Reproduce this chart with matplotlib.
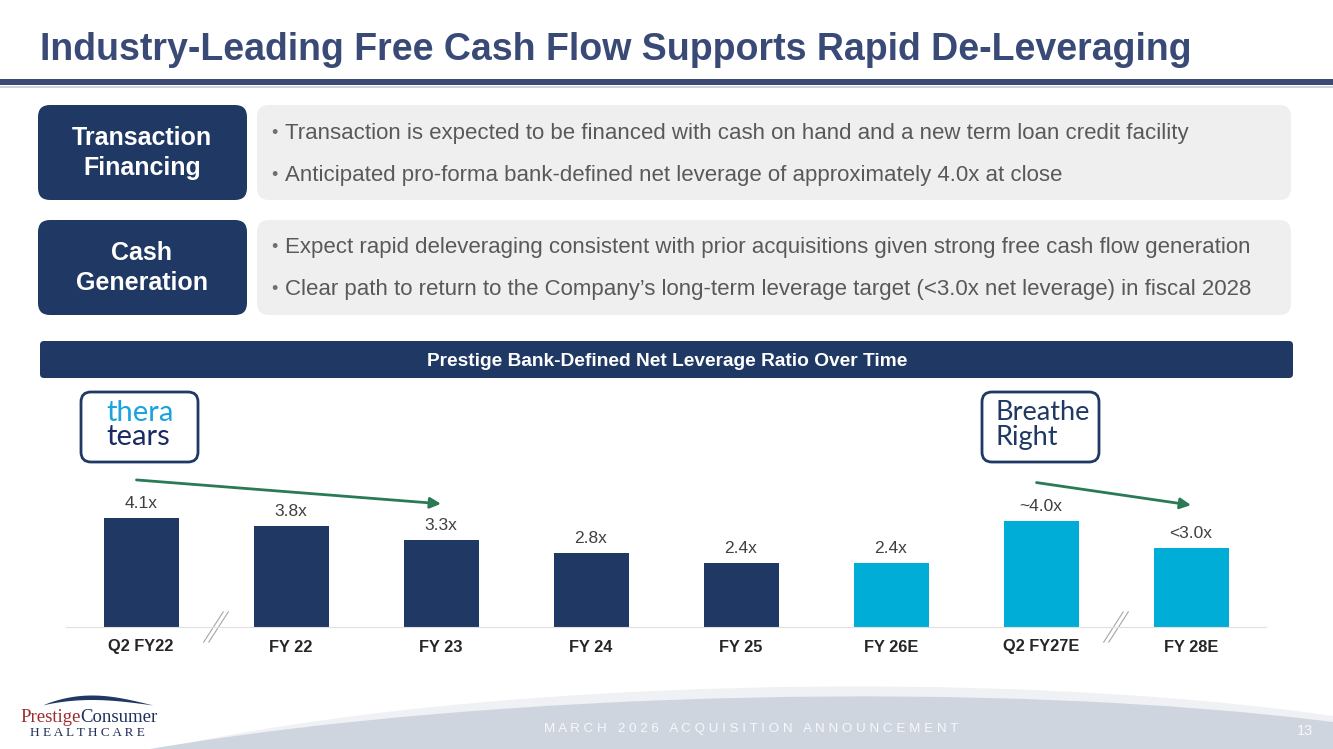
import numpy as np
import matplotlib.pyplot as plt
from matplotlib.patches import FancyBboxPatch, Rectangle, PathPatch
from matplotlib.path import Path

plt.rcParams['font.family'] = ['Liberation Sans', 'DejaVu Sans']

# chart data
periods = ['Q2 FY22', 'FY 22', 'FY 23', 'FY 24', 'FY 25', 'FY 26E', 'Q2 FY27E', 'FY 28E']
leverage = [4.1, 3.8, 3.3, 2.8, 2.4, 2.4, 4.0, 3.0]
value_labels = ['4.1x', '3.8x', '3.3x', '2.8x', '2.4x', '2.4x', '~4.0x', '<3.0x']
is_estimate = [False, False, False, False, False, True, True, True]

title = 'Industry-Leading Free Cash Flow Supports Rapid De-Leveraging'
chart_title = 'Prestige Bank-Defined Net Leverage Ratio Over Time'
sections = ['Transaction\nFinancing', 'Cash\nGeneration']
bullets = [
    ['Transaction is expected to be financed with cash on hand and a new term loan credit facility',
     'Anticipated pro-forma bank-defined net leverage of approximately 4.0x at close'],
    ['Expect rapid deleveraging consistent with prior acquisitions given strong free cash flow generation',
     'Clear path to return to the Company\u2019s long-term leverage target (<3.0x net leverage) in fiscal 2028'],
]

NAVY = '#1f3864'
CYAN = '#00add6'
TITLE_C = '#3a4a77'
GREEN = '#2a7a56'

W, H = 1333, 749
fig = plt.figure(figsize=(W / 100, H / 100), dpi=100)
bg = fig.add_axes([0, 0, 1, 1])
bg.set_xlim(0, W)
bg.set_ylim(H, 0)
bg.axis('off')

# title and rule
bg.text(40, 50, title, fontsize=27, fontweight='bold', color=TITLE_C, va='center', ha='left')
bg.add_patch(Rectangle((0, 79), W, 6, color='#3b4b73', lw=0))
bg.add_patch(Rectangle((0, 86), W, 1.5, color='#d0d4dc', lw=0))

# section boxes with bullets
for k, (sec, items) in enumerate(zip(sections, bullets)):
    top = 105 + k * 115
    bg.add_patch(FancyBboxPatch((257, top), 1034, 95, boxstyle='round,pad=0,rounding_size=12',
                                fc='#efefef', ec='none'))
    bg.add_patch(FancyBboxPatch((38, top), 209, 95, boxstyle='round,pad=0,rounding_size=12',
                                fc=NAVY, ec='none'))
    bg.text(142, top + 48, sec, color='white', fontsize=18, fontweight='bold',
            ha='center', va='center', linespacing=1.3)
    for j, b in enumerate(items):
        yy = top + 28 + j * 42
        bg.text(271, yy, '\u2022', color='#6f6f6f', fontsize=13, va='center', ha='left')
        bg.text(285, yy, b, color='#595959', fontsize=16, va='center', ha='left')

# chart header bar
bg.add_patch(FancyBboxPatch((40, 341), 1253, 37, boxstyle='round,pad=0,rounding_size=4',
                            fc=NAVY, ec='none'))
bg.text(667, 361, chart_title, color='white', fontsize=13.8, fontweight='bold',
        ha='center', va='center')

# logos
for (x0, kind) in [(81, 'thera'), (982, 'breathe')]:
    bg.add_patch(FancyBboxPatch((x0, 392), 117, 70, boxstyle='round,pad=0,rounding_size=10',
                                fc='white', ec=NAVY, lw=2))
    if kind == 'thera':
        bg.text(x0 + 25, 413, 'thera', color='#1aa3dc', fontsize=21, family='Lato',
                va='center', ha='left')
        bg.text(x0 + 25, 437, 'tears', color='#1b2a66', fontsize=21, family='Lato',
                va='center', ha='left')
    else:
        bg.text(x0 + 13, 413, 'Breathe', color=NAVY, fontsize=19.5, family='Lato',
                va='center', ha='left')
        bg.text(x0 + 13, 437, 'Right', color=NAVY, fontsize=19.5, family='Lato',
                va='center', ha='left')

# footer swoosh
cub = [Path.MOVETO, Path.CURVE4, Path.CURVE4, Path.CURVE4, Path.LINETO, Path.CLOSEPOLY]
light = Path([(160, H), (480, 678), (1000, 668), (W, 716), (W, H), (160, H)], cub)
bg.add_patch(PathPatch(light, fc='#f0f1f4', ec='none'))
dark = Path([(150, H), (500, 690), (1000, 680), (W, 722), (W, H), (150, H)], cub)
bg.add_patch(PathPatch(dark, fc='#cfd5df', ec='none'))
footer = '   '.join(' '.join(w) for w in 'MARCH 2026 ACQUISITION ANNOUNCEMENT'.split())
bg.text(751, 729, footer, color='#f7f8fa', fontsize=9.6, ha='center', va='center')
bg.text(1305, 731, '13', color='#f7f8fa', fontsize=10.5, ha='center', va='center')

# company logo
t = np.linspace(0, 1, 60)
xa = 43 + 110 * t
bg.fill_between(xa, 705 - 10 * np.sin(np.pi * t ** 0.85), 705 - 5.5 * np.sin(np.pi * t ** 0.85),
                color=NAVY, lw=0)
bg.text(20, 718, 'Prestige', color='#9e2a2f', fontsize=13.5, family='Liberation Serif',
        va='center', ha='left')
bg.text(80, 718, 'Consumer', color='#1f2f5c', fontsize=13.5, family='Liberation Serif',
        va='center', ha='left')
bg.text(87, 733, ' '.join('HEALTHCARE'), color='#1f2f5c', fontsize=9.5,
        family='Liberation Serif', va='center', ha='center')

# bar chart
ax = fig.add_axes([66 / W, (H - 627) / H, 1200 / W, 159 / H])
ax.patch.set_alpha(0)
x = np.arange(len(periods))
colors = [CYAN if e else NAVY for e in is_estimate]
ax.bar(x, leverage, width=0.5, color=colors)
for xi, v, lab in zip(x, leverage, value_labels):
    ax.annotate(lab, (xi, v), xytext=(0, 5), textcoords='offset points',
                ha='center', va='bottom', fontsize=12.5, color='#404040')
ax.set_xlim(-0.5, len(periods) - 0.5)
ax.set_ylim(0, 6)
ax.set_xticks(x)
ax.set_xticklabels(periods, fontsize=11.8, fontweight='bold', color='#262626')
ax.tick_params(axis='x', length=0, pad=9)
ax.set_yticks([])
for s in ['top', 'right', 'left']:
    ax.spines[s].set_visible(False)
ax.spines['bottom'].set_color('#e0e0e0')

# axis break marks
for b in [0.5, 6.5]:
    for dx in [-0.017, 0.017]:
        ax.plot([b + dx - 0.065, b + dx + 0.065], [-0.57, 0.57], color='#a6a6a6',
                lw=0.8, clip_on=False)

# deleveraging arrows
for i0, i1, y0, y1 in [(0, 2, 5.55, 4.65), (6, 7, 5.45, 4.6)]:
    ax.annotate('', xy=(i1, y1), xytext=(i0 - 0.03, y0), annotation_clip=False,
                arrowprops=dict(arrowstyle='-|>', color=GREEN, lw=2, mutation_scale=16,
                                shrinkA=0, shrinkB=0))

fig.savefig('out.png', dpi=100)
